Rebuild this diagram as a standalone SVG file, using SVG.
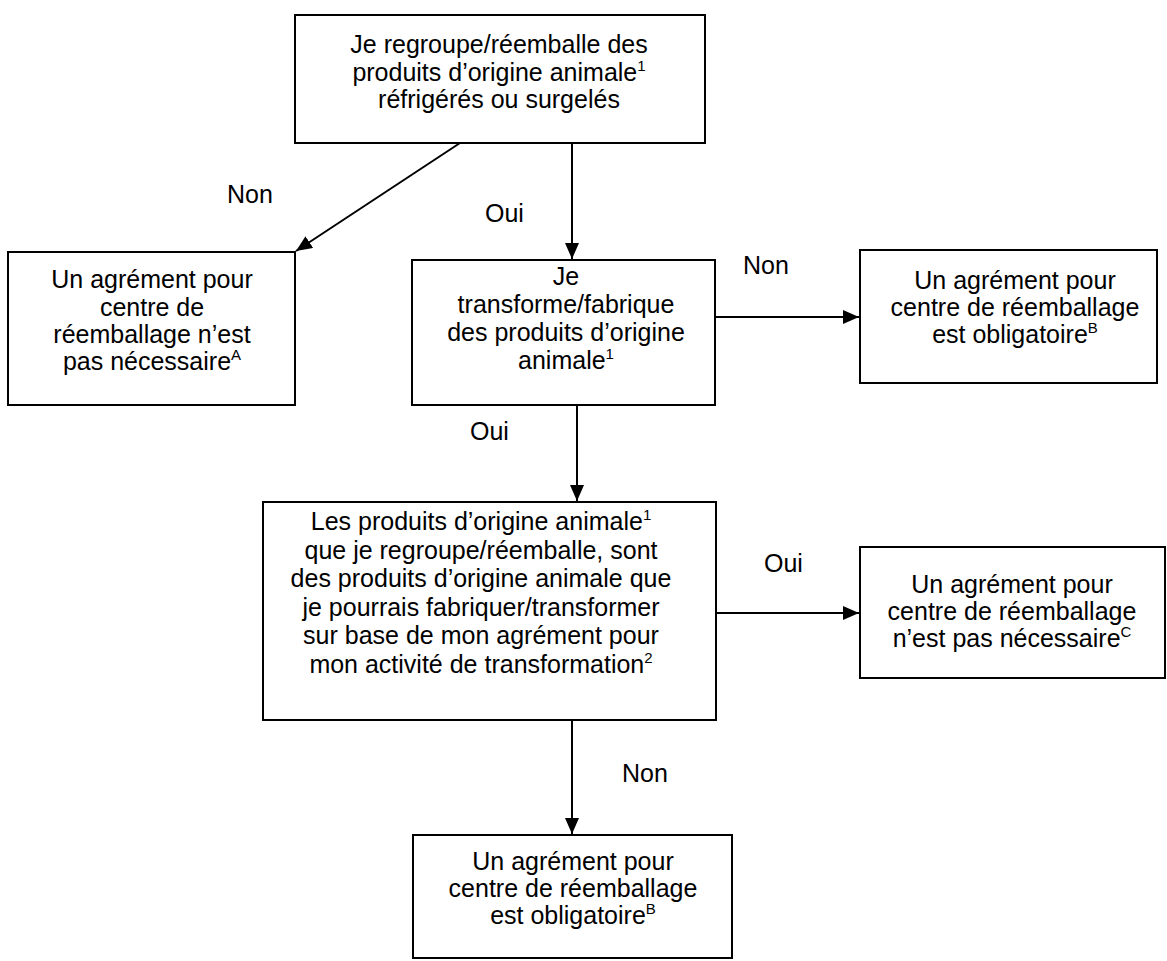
<svg xmlns="http://www.w3.org/2000/svg" width="1167" height="961" viewBox="0 0 1167 961">
<style>
rect.box{fill:#fff;stroke:#000;stroke-width:2}
text{font-family:"Liberation Sans",Arial,sans-serif;font-size:25px;fill:#000}
text.c{text-anchor:middle}
tspan.sup{font-size:15px}
.edge{stroke:#000;stroke-width:2;fill:none;marker-end:url(#ah)}
</style>
<defs>
<marker id="ah" markerUnits="userSpaceOnUse" markerWidth="17" markerHeight="15" refX="16" refY="7" orient="auto">
<path d="M0,0 L16,7 L0,14 z" fill="#000"/>
</marker>
</defs>
<rect width="1167" height="961" fill="#fff"/>
<g id="connectors">
<line class="edge" x1="460" y1="143" x2="296" y2="251"/>
<line class="edge" x1="572" y1="143" x2="572" y2="259"/>
<line class="edge" x1="715" y1="317" x2="859" y2="317"/>
<line class="edge" x1="577" y1="405" x2="577" y2="501"/>
<line class="edge" x1="716" y1="613" x2="859" y2="613"/>
<line class="edge" x1="572" y1="720" x2="572" y2="834"/>
<text x="227" y="203">Non</text>
<text x="485" y="222">Oui</text>
<text x="743" y="274">Non</text>
<text x="470" y="440">Oui</text>
<text x="764" y="572">Oui</text>
<text x="622" y="782">Non</text>
</g>
<g id="n1">
<rect class="box" x="295" y="15" width="410" height="128"/>
<text class="c" x="499" y="53">Je regroupe/réemballe des</text>
<text class="c" x="499" y="80.5">produits d’origine animale<tspan class="sup" dy="-10">1</tspan></text>
<text class="c" x="499" y="108">réfrigérés ou surgelés</text>
</g>
<g id="n2">
<rect class="box" x="8" y="252" width="287" height="153"/>
<text class="c" x="152" y="288">Un agrément pour</text>
<text class="c" x="152" y="315.5">centre de</text>
<text class="c" x="152" y="343">réemballage n’est</text>
<text class="c" x="152" y="370">pas nécessaire<tspan class="sup" dy="-10">A</tspan></text>
</g>
<g id="n3">
<rect class="box" x="412" y="260" width="303" height="145"/>
<text class="c" x="566" y="285">Je</text>
<text class="c" x="566" y="313">transforme/fabrique</text>
<text class="c" x="566" y="341">des produits d’origine</text>
<text class="c" x="566" y="369">animale<tspan class="sup" dy="-10">1</tspan></text>
</g>
<g id="n4">
<rect class="box" x="860" y="250" width="297" height="133"/>
<text class="c" x="1015" y="289">Un agrément pour</text>
<text class="c" x="1015" y="316">centre de réemballage</text>
<text class="c" x="1015" y="343">est obligatoire<tspan class="sup" dy="-10">B</tspan></text>
</g>
<g id="n5">
<rect class="box" x="263" y="502" width="453" height="218"/>
<text class="c" x="481" y="530">Les produits d’origine animale<tspan class="sup" dy="-10">1</tspan></text>
<text class="c" x="481" y="558.5">que je regroupe/réemballe, sont</text>
<text class="c" x="481" y="587">des produits d’origine animale que</text>
<text class="c" x="481" y="615.5">je pourrais fabriquer/transformer</text>
<text class="c" x="481" y="644">sur base de mon agrément pour</text>
<text class="c" x="481" y="672.5">mon activité de transformation<tspan class="sup" dy="-10">2</tspan></text>
</g>
<g id="n6">
<rect class="box" x="860" y="547" width="305" height="131"/>
<text class="c" x="1012" y="593">Un agrément pour</text>
<text class="c" x="1012" y="620">centre de réemballage</text>
<text class="c" x="1012" y="647">n’est pas nécessaire<tspan class="sup" dy="-10">C</tspan></text>
</g>
<g id="n7">
<rect class="box" x="413" y="835" width="319" height="123"/>
<text class="c" x="573" y="870">Un agrément pour</text>
<text class="c" x="573" y="897">centre de réemballage</text>
<text class="c" x="573" y="924">est obligatoire<tspan class="sup" dy="-10">B</tspan></text>
</g>
</svg>
